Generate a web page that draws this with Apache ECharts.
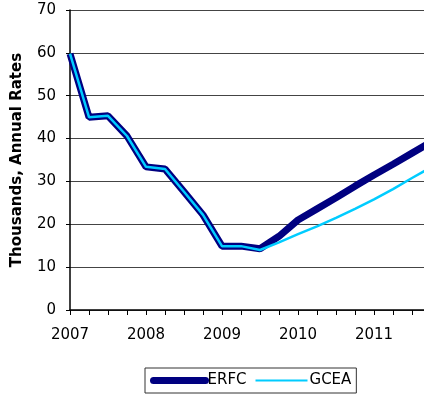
<!DOCTYPE html>
<html>
<head>
<meta charset="utf-8">
<script src="https://cdn.jsdelivr.net/npm/echarts@6/dist/echarts.min.js"></script>
<style>
  html, body { margin: 0; padding: 0; background: #fff; }
  #myChart { width: 424px; height: 402px; }
</style>
</head>
<body>
<div id="myChart"></div>
<script>
// quarterly categories, 2007 Q1 to 2011 Q4 (last ones run off the right edge)
const quarters = [
  "2007 Q1", "2007 Q2", "2007 Q3", "2007 Q4",
  "2008 Q1", "2008 Q2", "2008 Q3", "2008 Q4",
  "2009 Q1", "2009 Q2", "2009 Q3", "2009 Q4",
  "2010 Q1", "2010 Q2", "2010 Q3", "2010 Q4",
  "2011 Q1", "2011 Q2", "2011 Q3", "2011 Q4"
];
const erfc = [59.8, 45.0, 45.3, 40.6, 33.4, 32.9, 27.6, 22.2, 14.9, 14.9, 14.3, 17.2,
              21.0, 23.6, 26.2, 28.9, 31.5, 34.0, 36.6, 39.2];
const gcea = [59.8, 45.0, 45.3, 40.6, 33.4, 32.9, 27.6, 22.2, 14.9, 14.9, 14.0, 15.8,
              17.7, 19.5, 21.5, 23.6, 25.8, 28.2, 30.8, 33.3];
const yTicks = { min: 0, max: 70, interval: 10 };

let chart = echarts.init(document.getElementById("myChart"));
let font = "DejaVu Sans";
let option = {
  animation: false,
  backgroundColor: "#fff",
  // plot keeps going past the right edge of the picture
  grid: { left: 70, top: 10, width: 361, height: 300, outerBoundsMode: "none", containLabel: false },
  legend: {
    left: 145,
    top: 368,
    padding: [5, 5],
    itemWidth: 52,
    itemHeight: 10,
    itemGap: 8,
    borderColor: "#333",
    borderWidth: 1,
    borderRadius: 0,
    itemStyle: { opacity: 0 },
    textStyle: { fontFamily: font, fontSize: 15, color: "#000", padding: [0, 0, 0, -3] },
    data: [
      { name: "ERFC", lineStyle: { width: 7, cap: "round" }, itemStyle: { opacity: 0 } },
      { name: "GCEA", lineStyle: { width: 2 }, itemStyle: { opacity: 0 } }
    ]
  },
  xAxis: {
    type: "category",
    data: quarters,
    boundaryGap: false,
    axisLine: { lineStyle: { color: "#000", width: 1.5 } },
    axisTick: { show: true, interval: 0, length: 5, lineStyle: { color: "#000" } },
    axisLabel: {
      interval: 0,
      margin: 18,
      fontFamily: font,
      fontSize: 15,
      color: "#000",
      formatter: (v) => (v.endsWith("Q1") ? v.slice(0, 4) : "")
    },
    splitLine: { show: false }
  },
  yAxis: {
    type: "value",
    min: yTicks.min,
    max: yTicks.max,
    interval: yTicks.interval,
    name: "Thousands, Annual Rates",
    nameLocation: "middle",
    nameRotate: 90,
    nameGap: 45,
    nameTextStyle: { fontFamily: font, fontSize: 15, fontWeight: "bold", color: "#000" },
    axisLine: { show: true, lineStyle: { color: "#000", width: 1.5 } },
    axisTick: { show: true, length: 4, lineStyle: { color: "#000" } },
    axisLabel: { margin: 14, fontFamily: font, fontSize: 15, color: "#000" },
    splitLine: { lineStyle: { color: "#444", width: 1 } }
  },
  series: [
    {
      type: "line",
      name: "ERFC",
      data: erfc,
      showSymbol: false,
      symbol: "none",
      color: "#000080",
      lineStyle: { width: 7, color: "#000080" }
    },
    {
      type: "line",
      name: "GCEA",
      data: gcea,
      showSymbol: false,
      symbol: "none",
      color: "#00CCFF",
      lineStyle: { width: 2.5, color: "#00CCFF" }
    }
  ]
};
chart.setOption(option);
</script>
</body>
</html>
